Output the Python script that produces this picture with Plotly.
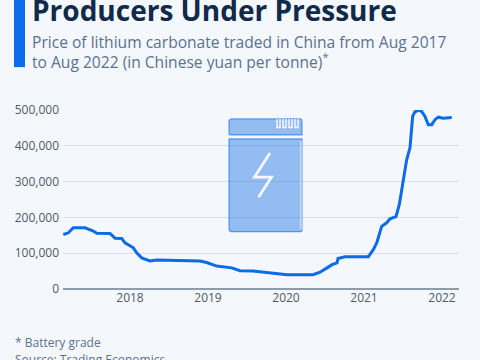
import plotly.graph_objects as go

years = [2017.145,2017.21,2017.273,2017.423,2017.53,2017.573,2017.744,2017.808,2017.894,2017.936,
2018.043,2018.086,2018.15,2018.256,2018.342,2018.513,2018.641,2018.897,2018.983,2019.111,2019.304,2019.41,
2019.577,2019.833,2020.013,2020.346,2020.436,2020.526,2020.59,2020.654,2020.667,2020.756,2021.055,2021.119,2021.163,2021.227,2021.291,
2021.333,2021.41,2021.453,2021.483,2021.513,2021.547,2021.59,2021.624,2021.654,2021.696,2021.74,2021.782,2021.824,
2021.868,2021.91,2021.953,2022.017,2022.125]
prices = [152000,157000,171000,171000,162000,156000,155000,142000,141000,129000,
115000,101000,87000,78500,81000,80000,78000,78000,74000,64000,59000,51000,
50000,45000,40000,40000,47000,59000,68000,73000,85000,90000,90000,110000,129000,175000,185000,
196000,202000,236000,278000,311000,361000,395000,483000,495000,499000,496000,482000,459000,
459000,473000,480000,477000,479000]
ytick_vals = [0,100000,200000,300000,400000,500000]
ytick_text = ["0","100,000","200,000","300,000","400,000","500,000"]
xtick_vals = [2018,2019,2020,2021,2022]
xtick_text = ["2018","2019","2020","2021","2022"]

W,H=480,360
L,R,T,B=63,459,110,289.5
BG="#f4f7fb"
BLUE="#0b6be8"
def px(x): return (x-L)/(R-L)
def py(y): return (B-y)/(B-T)
def rounded(x0,y0,x1,y1,tl,tr,br,bl):
    return (f"M {px(x0+tl):.4f},{py(y0):.4f} L {px(x1-tr):.4f},{py(y0):.4f} Q {px(x1):.4f},{py(y0):.4f} {px(x1):.4f},{py(y0+tr):.4f} "
            f"L {px(x1):.4f},{py(y1-br):.4f} Q {px(x1):.4f},{py(y1):.4f} {px(x1-br):.4f},{py(y1):.4f} "
            f"L {px(x0+bl):.4f},{py(y1):.4f} Q {px(x0):.4f},{py(y1):.4f} {px(x0):.4f},{py(y1-bl):.4f} "
            f"L {px(x0):.4f},{py(y0+tl):.4f} Q {px(x0):.4f},{py(y0):.4f} {px(x0+tl):.4f},{py(y0):.4f} Z")
def line(pts):
    return "M "+" L ".join(f"{px(x):.4f},{py(y):.4f}" for x,y in pts)
def shp(path,**k):
    return dict(type="path",xref="paper",yref="paper",path=path,layer="above",**k)

fig=go.Figure(go.Scatter(x=years,y=prices,mode="lines",line=dict(color=BLUE,width=3),hoverinfo="skip"))
font="Open Sans"
tf=dict(family=font,size=12,color="#4d5a6b")
fig.update_layout(width=W,height=H,margin=dict(l=L,r=W-R,t=T,b=H-B),paper_bgcolor=BG,plot_bgcolor=BG,showlegend=False,
 xaxis=dict(range=[2017.141,2022.218],tickvals=xtick_vals,ticktext=xtick_text,showgrid=False,zeroline=False,showline=False,ticks="",tickfont=tf),
 yaxis=dict(range=[0,500000],tickvals=ytick_vals,ticktext=ytick_text,gridcolor="#d9dee5",gridwidth=1,zeroline=True,zerolinecolor="#8d9bab",zerolinewidth=1.5,showline=False,ticks="",ticklabelstandoff=3,tickfont=tf))
ICON="rgba(11,107,232,0.42)"
shapes=[
 dict(type="rect",xref="paper",yref="paper",x0=px(14),x1=px(25),y0=py(-5),y1=py(67),fillcolor=BLUE,line_width=0),
 shp(rounded(229,119,302,135,3,2,0,2),fillcolor=ICON,line=dict(color="rgba(11,107,232,0.6)",width=1.2)),
 shp(rounded(229,139,302,232,0,0,2,3),fillcolor=ICON,line=dict(color="rgba(11,107,232,0.6)",width=1.2)),
 shp(line([(301,141),(301,230)]),line=dict(color=BG,width=1)),
 shp(line([(270,153),(254.5,177.3),(271.5,177.3),(258.5,197.5)]),line=dict(color=BG,width=2.8)),
]
for i in range(4):
    x=277+i*6
    shapes.append(shp(line([(x,119),(x,127.5),(x+3,127.5),(x+3,119)]),line=dict(color=BG,width=1.5)))
fig.update_layout(shapes=shapes)
def text(x,y,t,size,color,bold=False):
    fig.add_annotation(xref="paper",yref="paper",x=px(x),y=py(y),text=f"<b>{t}</b>" if bold else t,showarrow=False,xanchor="left",yanchor="middle",align="left",borderpad=0,font=dict(family=font,size=size,color=color))
text(31,10,"Producers Under Pressure",28,"#0f2a4a",True)
text(31,42,"Price of lithium carbonate traded in China from Aug 2017",15.6,"#5b7290")
text(31,61,"to Aug 2022 (in Chinese yuan per tonne)<sup>*</sup>",15.6,"#5b7290")
text(14,343,"* Battery grade",12,"#5b7290")
text(14,360,"Source: Trading Economics",12,"#5b7290")
fig.write_html("out.html",config=dict(displayModeBar=False),post_script="document.body.style.margin='0';document.documentElement.style.overflow='hidden';document.documentElement.style.background='#f4f7fb';")
